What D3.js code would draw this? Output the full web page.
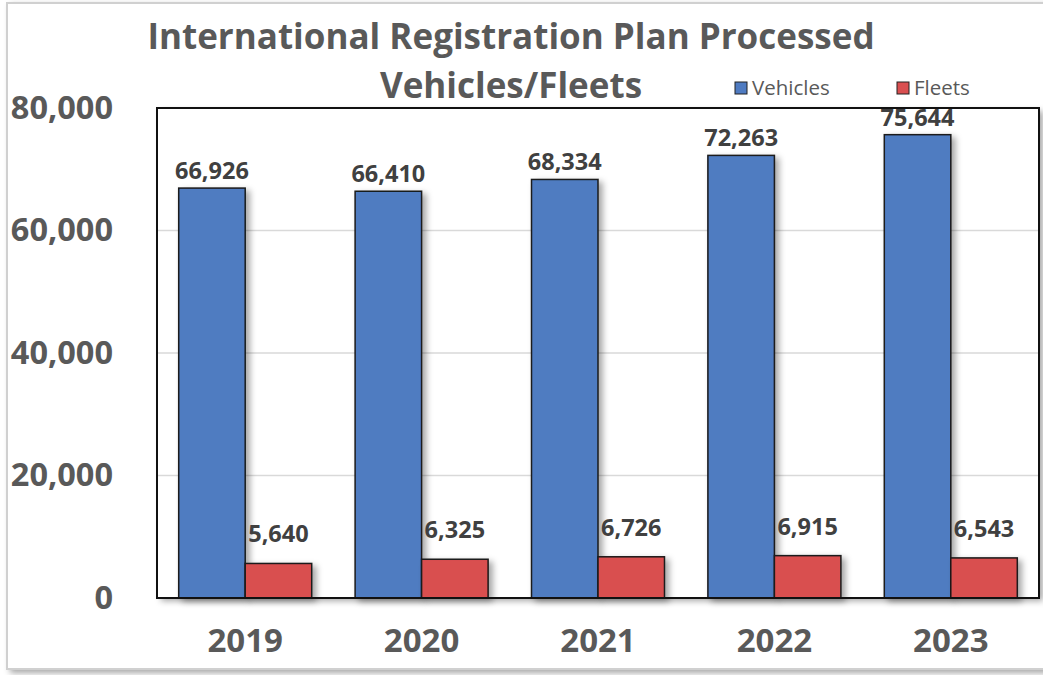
<!DOCTYPE html>
<html>
<head>
<meta charset="utf-8">
<script src="https://cdn.jsdelivr.net/npm/d3@7"></script>
<style>
  body { margin: 0; background: #fff; }
  text { font-family: "Open Sans", sans-serif; }
</style>
</head>
<body>
<div id="chart"></div>
<script>
// data
var years = ["2019", "2020", "2021", "2022", "2023"];
var vehicles = [66926, 66410, 68334, 72263, 75644];
var fleets = [5640, 6325, 6726, 6915, 6543];
var seriesNames = ["Vehicles", "Fleets"];
var yTicks = [0, 20000, 40000, 60000, 80000];

var colors = { Vehicles: "#4f7bc1", Fleets: "#d94f50" };
var labelGap = { Vehicles: 9, Fleets: 21 };

var W = 1043, H = 675;
var plot = { left: 157, top: 108, right: 1039, bottom: 598 };

var rows = years.map(function (y, i) {
  return { year: y, Vehicles: vehicles[i], Fleets: fleets[i] };
});

var svg = d3.select("#chart")
  .append("svg")
    .attr("width", W)
    .attr("height", H);

var defs = svg.append("defs");
defs.append("filter")
    .attr("id", "shadow")
    .attr("x", "-20%").attr("y", "-20%")
    .attr("width", "150%").attr("height", "150%")
  .append("feDropShadow")
    .attr("dx", 4).attr("dy", 3)
    .attr("stdDeviation", 3)
    .attr("flood-color", "#000")
    .attr("flood-opacity", 0.35);

// outer chart border
svg.append("rect")
    .attr("x", 7).attr("y", 3)
    .attr("width", W + 10).attr("height", 666)
    .attr("fill", "#fff")
    .attr("stroke", "#d0d0d0")
    .attr("stroke-width", 2)
    .attr("filter", "url(#shadow)");

// scales
var x0 = d3.scaleBand().domain(years).range([plot.left, plot.right]).padding(0);
var x1 = d3.scaleBand().domain(seriesNames)
    .range([x0.bandwidth() * 0.123, x0.bandwidth() * 0.877]).padding(0);
var y = d3.scaleLinear().domain([0, 80000]).range([plot.bottom, plot.top]);

// plot area with a soft shadow
svg.append("rect")
    .attr("x", plot.left).attr("y", plot.top)
    .attr("width", plot.right - plot.left)
    .attr("height", plot.bottom - plot.top)
    .attr("fill", "#fff")
    .attr("filter", "url(#shadow)");

// gridlines
svg.append("g")
  .selectAll("line")
  .data(yTicks.filter(function (d) { return d > 0 && d < 80000; }))
  .join("line")
    .attr("x1", plot.left).attr("x2", plot.right)
    .attr("y1", function (d) { return y(d); })
    .attr("y2", function (d) { return y(d); })
    .attr("stroke", "#d9d9d9")
    .attr("stroke-width", 1.5);

// bars
var groups = svg.append("g")
  .selectAll("g")
  .data(rows)
  .join("g")
    .attr("transform", function (d) { return "translate(" + x0(d.year) + ",0)"; });

groups.selectAll("rect")
  .data(function (d) { return seriesNames.map(function (s) { return { key: s, value: d[s] }; }); })
  .join("rect")
    .attr("x", function (d) { return x1(d.key); })
    .attr("y", function (d) { return y(d.value); })
    .attr("width", x1.bandwidth())
    .attr("height", function (d) { return y(0) - y(d.value); })
    .attr("fill", function (d) { return colors[d.key]; })
    .attr("stroke", "#1a1a1a")
    .attr("stroke-width", 1.5)
    .attr("filter", "url(#shadow)");

groups.selectAll("text")
  .data(function (d) { return seriesNames.map(function (s) { return { key: s, value: d[s] }; }); })
  .join("text")
    .attr("x", function (d) { return x1(d.key) + x1.bandwidth() / 2; })
    .attr("y", function (d) { return y(d.value) - labelGap[d.key]; })
    .attr("text-anchor", "middle")
    .attr("font-size", 23.5)
    .attr("font-weight", "bold")
    .attr("fill", "#404040")
    .text(function (d) { return d3.format(",")(d.value); });

// plot frame on top
svg.append("rect")
    .attr("x", plot.left).attr("y", plot.top)
    .attr("width", plot.right - plot.left)
    .attr("height", plot.bottom - plot.top)
    .attr("fill", "none")
    .attr("stroke", "#111")
    .attr("stroke-width", 2);

// y axis labels
var yAxis = d3.axisLeft(y).tickValues(yTicks).tickFormat(d3.format(",")).tickSize(0).tickPadding(44);
var yg = svg.append("g")
    .attr("transform", "translate(" + plot.left + ",0)")
    .call(yAxis);
yg.select(".domain").remove();
yg.selectAll("text")
    .attr("font-family", "Open Sans, sans-serif")
    .attr("font-size", 32.5)
    .attr("font-weight", "bold")
    .attr("fill", "#595959");

// x axis labels
var xAxis = d3.axisBottom(x0).tickSize(0).tickPadding(31);
var xg = svg.append("g")
    .attr("transform", "translate(0," + plot.bottom + ")")
    .call(xAxis);
xg.select(".domain").remove();
xg.selectAll("text")
    .attr("font-family", "Open Sans, sans-serif")
    .attr("font-size", 33)
    .attr("font-weight", "bold")
    .attr("fill", "#595959");

// title
var title = svg.append("g")
    .attr("font-weight", "bold")
    .attr("fill", "#595959")
    .attr("text-anchor", "middle");
title.append("text")
    .attr("x", 511).attr("y", 49)
    .attr("font-size", 35)
    .text("International Registration Plan Processed");
title.append("text")
    .attr("x", 511).attr("y", 98)
    .attr("font-size", 35)
    .text("Vehicles/Fleets");

// legend
var legendX = [735, 897];
var legend = svg.append("g")
  .selectAll("g")
  .data(seriesNames)
  .join("g")
    .attr("transform", function (d, i) { return "translate(" + legendX[i] + ",82)"; });
legend.append("rect")
    .attr("width", 12).attr("height", 12)
    .attr("fill", function (d) { return colors[d]; })
    .attr("stroke", "#222")
    .attr("stroke-width", 1);
legend.append("text")
    .attr("x", 17).attr("y", 13)
    .attr("font-size", 20.5)
    .attr("fill", "#595959")
    .text(function (d) { return d; });
</script>
</body>
</html>
